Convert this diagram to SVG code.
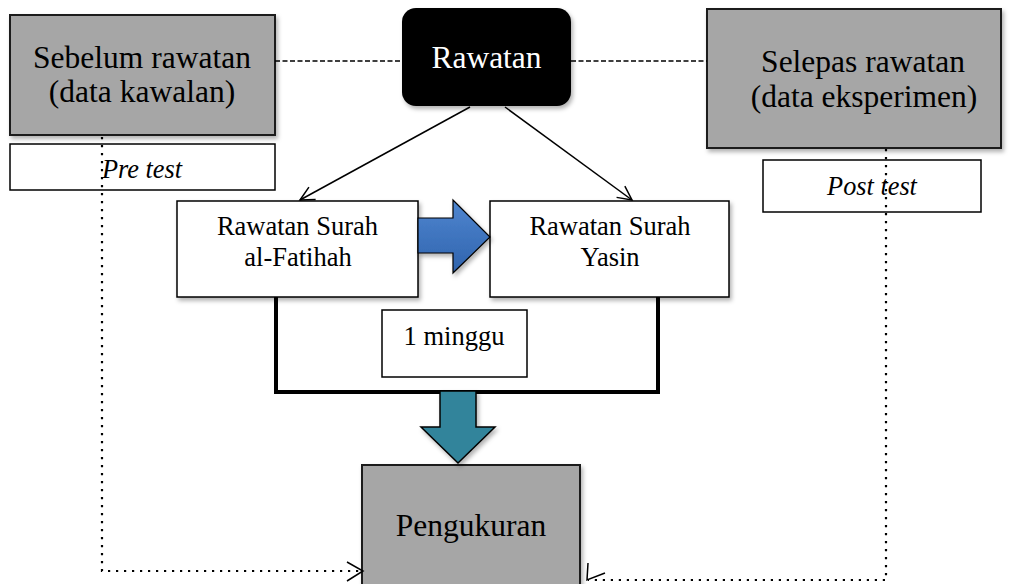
<svg xmlns="http://www.w3.org/2000/svg" width="1009" height="584" viewBox="0 0 1009 584">
<defs>
<filter id="sh" x="-10%" y="-10%" width="130%" height="130%">
<feDropShadow dx="2" dy="3" stdDeviation="2" flood-color="#000" flood-opacity="0.3"/>
</filter>
<linearGradient id="blueG" x1="0" y1="0" x2="0" y2="1">
<stop offset="0" stop-color="#4f86d0"/>
<stop offset="1" stop-color="#2f63ad"/>
</linearGradient>
<marker id="open" markerUnits="userSpaceOnUse" markerWidth="18" markerHeight="18" viewBox="0 0 18 18" refX="16" refY="9" orient="auto">
<path d="M2,2 L16,9 L2,16" fill="none" stroke="#000" stroke-width="1.5"/>
</marker>
</defs>
<style>
.gray{fill:#a6a6a6;stroke:#1a1a1a;stroke-width:2}
.white{fill:#fff;stroke:#000;stroke-width:1.5}
.t{font-family:"Liberation Serif","Times New Roman",serif;fill:#000;text-anchor:middle}
.big{font-size:31.5px}
.sm{font-size:26.5px}
.it{font-style:italic;font-size:26.3px}
.dash{fill:none;stroke:#000;stroke-width:1.6;stroke-dasharray:5 2.5}
.dot{fill:none;stroke:#000;stroke-width:2.2;stroke-dasharray:2.2 5.8}
.thin{fill:none;stroke:#000;stroke-width:1.5}
</style>
<rect width="1009" height="584" fill="#fff"/>

<g id="n-sebelum">
<rect class="gray" x="10" y="15" width="265" height="120" filter="url(#sh)"/>
<text class="t big" x="142" y="68">Sebelum rawatan</text>
<text class="t big" x="142" y="102">(data kawalan)</text>
</g>

<g id="n-pretest">
<rect class="white" x="10" y="144" width="265" height="46"/>
<text class="t it" x="142" y="178">Pre test</text>
</g>

<g id="n-rawatan">
<rect x="402" y="8" width="169" height="98" rx="14" fill="#000" filter="url(#sh)"/>
<text class="t big" style="fill:#fff" x="486.5" y="68">Rawatan</text>
</g>

<g id="n-selepas">
<rect class="gray" x="707" y="9" width="294" height="139" filter="url(#sh)"/>
<text class="t big" x="863" y="72">Selepas rawatan</text>
<text class="t big" x="864" y="107">(data eksperimen)</text>
</g>

<g id="n-posttest">
<rect class="white" x="763" y="160" width="218" height="52"/>
<text class="t it" x="872" y="195">Post test</text>
</g>

<g id="n-fatihah">
<rect class="white" x="177" y="201" width="241" height="96" filter="url(#sh)"/>
<text class="t sm" x="297.5" y="235">Rawatan Surah</text>
<text class="t sm" x="298" y="266">al-Fatihah</text>
</g>

<g id="n-yasin">
<rect class="white" x="490" y="201" width="239" height="96" filter="url(#sh)"/>
<text class="t sm" x="610" y="235">Rawatan Surah</text>
<text class="t sm" x="610" y="266">Yasin</text>
</g>

<g id="n-arrow-blue">
<path d="M418,218 H453 V200 L490,237 L453,273 V253 H418 Z" fill="url(#blueG)" stroke="#000" stroke-width="1.2" filter="url(#sh)"/>
</g>

<g id="n-minggu">
<rect class="white" x="382" y="310" width="145" height="67"/>
<text class="t sm" x="454" y="345">1 minggu</text>
</g>

<g id="n-pengukuran">
<rect class="gray" x="362" y="465" width="218" height="135" filter="url(#sh)"/>
<text class="t big" x="471" y="536">Pengukuran</text>
</g>

<g id="connectors">
<line class="dash" x1="275" y1="61" x2="402" y2="61"/>
<line class="dash" x1="571" y1="61" x2="707" y2="61"/>
<line class="thin" x1="470" y1="107" x2="300" y2="200" marker-end="url(#open)"/>
<line class="thin" x1="505" y1="107" x2="632" y2="200" marker-end="url(#open)"/>
<path class="dot" d="M102,137 V571 H362"/>
<polyline class="thin" points="347,562 363,571 347,581"/>
<path class="dot" d="M886,149 V580 H588"/>
<polyline class="thin" points="588,563 587,580 605,573"/>
<path d="M276,297 V392 H658 V297" fill="none" stroke="#000" stroke-width="4"/>
</g>

<g id="n-arrow-teal">
<path d="M440,391 H476 V427 H495 L458,463 L421,427 H440 Z" fill="#31849b" stroke="#000" stroke-width="1.5" filter="url(#sh)"/>
</g>
</svg>
